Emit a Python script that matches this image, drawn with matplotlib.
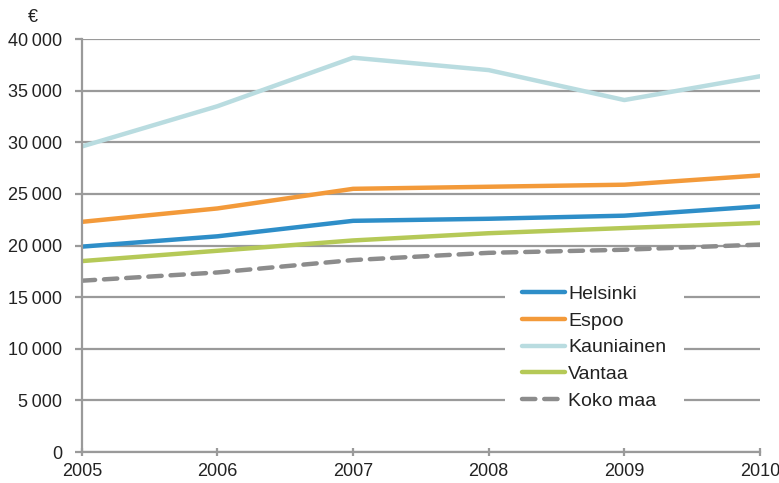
import matplotlib.pyplot as plt
from matplotlib.ticker import FuncFormatter

plt.rcParams['font.family'] = ['Liberation Sans', 'DejaVu Sans']

years = [2005, 2006, 2007, 2008, 2009, 2010]
helsinki = [19900, 20900, 22400, 22600, 22900, 23800]
espoo = [22300, 23600, 25500, 25700, 25900, 26800]
kauniainen = [29600, 33500, 38200, 37000, 34100, 36400]
vantaa = [18500, 19500, 20500, 21200, 21700, 22200]
koko_maa = [16600, 17400, 18600, 19300, 19600, 20100]

fig = plt.figure(figsize=(7.79, 4.83), dpi=100)
ax = fig.add_axes([0.105, 0.064, 0.8706, 0.855])

lw = 3.2
ax.plot(years, helsinki, color="#2e8ec8", lw=lw, label="Helsinki", solid_capstyle="round")
ax.plot(years, espoo, color="#f39a3a", lw=lw, label="Espoo", solid_capstyle="round")
ax.plot(years, kauniainen, color="#b9dce0", lw=lw, label="Kauniainen", solid_capstyle="round")
ax.plot(years, vantaa, color="#b5c957", lw=lw, label="Vantaa", solid_capstyle="round")
ax.plot(years, koko_maa, color="#8c8c8c", lw=lw, label="Koko maa", dashes=(3.0, 2.0),
        dash_capstyle="round")

ax.set_xlim(2005, 2010)
ax.set_ylim(0, 40000)
ax.set_yticks(range(0, 40001, 5000))
ax.set_xticks(years)
ax.yaxis.set_major_formatter(FuncFormatter(lambda v, p: f"{int(v):,}".replace(",", "\u2009")))

ax.grid(axis="y", color="#9a9a9a", lw=1.6)
ax.set_axisbelow(True)
for s in ["top", "right"]:
    ax.spines[s].set_visible(False)
for s in ["left", "bottom"]:
    ax.spines[s].set_color("#9a9a9a")
    ax.spines[s].set_linewidth(1.6)
ax.tick_params(axis="y", direction="out", length=5, width=1.6, color="#9a9a9a",
               labelsize=13, labelcolor="#222222", pad=9)
ax.tick_params(axis="x", direction="inout", length=6, width=1.6, color="#9a9a9a",
               labelsize=13, labelcolor="#222222", pad=5)

ax.text(-0.072, 1.053, "€", transform=ax.transAxes, fontsize=13, color="#222222",
        ha="center", va="center")

# legend sits inside the plot on a white box that hides the grid lines
leg = ax.legend(loc="lower left", bbox_to_anchor=(0.624, 0.06), fontsize=14, frameon=True,
                handlelength=2.2, handletextpad=0.15, labelspacing=0.47, borderpad=0.9,
                borderaxespad=0)
leg.get_frame().set_facecolor("white")
leg.get_frame().set_edgecolor("none")
leg.get_frame().set_alpha(1)
for t in leg.get_texts():
    t.set_color("#222222")

fig.savefig("out.png", dpi=100)
